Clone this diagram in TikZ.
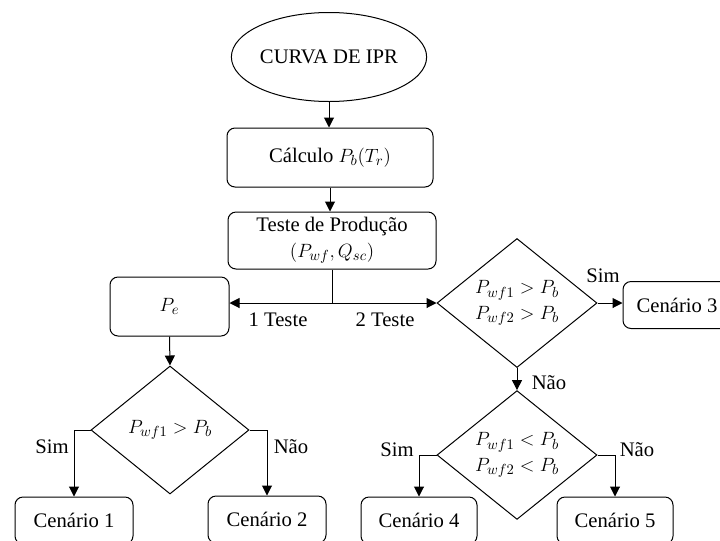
\documentclass[tikz,border=0pt]{standalone}
\usepackage{fontspec}
\setmainfont{Liberation Serif}
\usetikzlibrary{shapes.geometric,arrows.meta}
\begin{document}
\begin{tikzpicture}[x=0.75pt,y=-0.75pt,
  font=\fontsize{15.5}{19}\selectfont,
  line width=0.75pt,
  box/.style={draw, rounded corners=6pt, inner sep=0pt, align=center, fill=white},
  dec/.style={draw, diamond, inner sep=0pt, align=center, fill=white},
  arr/.style={-{Triangle[length=7.5pt,width=7.5pt]}},
  lbl/.style={inner sep=0pt}
]
\useasboundingbox (0,0) rectangle (720,540);
\clip (0,0) rectangle (720,540);
\node[draw, ellipse, minimum width=135.75pt, minimum height=66.75pt, inner sep=0pt] (ipr) at (329,57) {CURVA DE IPR};
\node[box, minimum width=154.5pt, minimum height=44.25pt] (calc) at (330,157.5) {Cálculo $P_b(T_r)$};
\node[box, minimum width=156pt, minimum height=42.75pt] (teste) at (332,240.5) {Teste de Produção\\$(P_{wf},Q_{sc})$};
\coordinate (j) at (332,303);
\node[box, minimum width=89.25pt, minimum height=44.25pt] (pe) at (169.5,306.5) {$P_e$};
\node[dec, minimum width=118.5pt, minimum height=96pt] (d1) at (170,430) {$P_{wf1}>P_b$};
\node[dec, minimum width=120pt, minimum height=96.75pt] (d2) at (517,303) {$P_{wf1}>P_b$\\$P_{wf2}>P_b$};
\node[dec, minimum width=120pt, minimum height=94.5pt] (d3) at (517,455) {$P_{wf1}<P_b$\\$P_{wf2}<P_b$};
\node[box, minimum width=88.5pt, minimum height=35.25pt] (c1) at (74,520.5) {Cenário 1};
\node[box, minimum width=88.5pt, minimum height=35.25pt] (c2) at (267,519.5) {Cenário 2};
\node[box, minimum width=81pt, minimum height=35.25pt] (c3) at (677,305) {Cenário 3};
\node[box, minimum width=87pt, minimum height=35.25pt] (c4) at (419,520.5) {Cenário 4};
\node[box, minimum width=87pt, minimum height=35.25pt] (c5) at (615,520.5) {Cenário 5};

\draw[arr] (ipr.south) -- (ipr.south |- calc.north);
\draw[arr] (calc.south) -- (calc.south |- teste.north);
\draw (teste.south) -- (j);
\draw[arr] (j) -- (j -| pe.east);
\draw[arr] (j) -- (d2.west);
\draw[arr] (pe.south) -- (d1.north);
\draw[arr] (d1.west) -| (c1.north);
\draw[arr] (d1.east) -| (c2.north);
\draw[arr] (d2.east) -- (d2.east -| c3.west);
\draw[arr] (d2.south) -- (d3.north);
\draw[arr] (d3.west) -| (c4.north);
\draw[arr] (d3.east) -| (c5.north);

\node[lbl] (t1) at (278,320) {1 Teste};
\node[lbl] (t2) at (385,320) {2 Teste};
\node[lbl] (s1) at (52,447) {Sim};
\node[lbl] (n1) at (291,447) {Não};
\node[lbl] (s2) at (603,276) {Sim};
\node[lbl] (n2) at (549,383) {Não};
\node[lbl] (s3) at (397,450) {Sim};
\node[lbl] (n3) at (637,450) {Não};
\end{tikzpicture}
\end{document}
